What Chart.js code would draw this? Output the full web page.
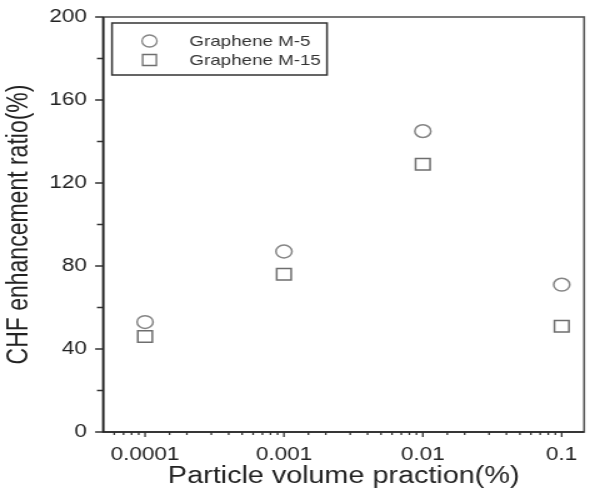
<!DOCTYPE html>
<html>
<head>
<meta charset="utf-8">
<script src="https://cdn.jsdelivr.net/npm/chart.js@4/dist/chart.umd.min.js"></script>
<style>
  html, body { margin: 0; padding: 0; background: #fff; overflow: hidden; }
  /* the source figure is stretched sideways, so the canvas is too */
  #chf { display: block; transform: scaleX(1.25); transform-origin: 0 0; }
</style>
</head>
<body>
<canvas id="chf" width="477" height="490"></canvas>
<script>
// particle volume fraction (%), log axis
const fractions = [0.0001, 0.001, 0.01, 0.1];
const m5Values = [53, 87, 145, 71];
const m15Values = [46, 76, 129, 51];
const seriesNames = ['Graphene M-5', 'Graphene M-15'];
const yTicks = [0, 40, 80, 120, 160, 200];

const FONT = "'Liberation Sans', Arial, sans-serif";
const isDecade = v => Math.abs(Math.log10(v) - Math.round(Math.log10(v))) < 1e-9;

const toPoints = vals => fractions.map((x, i) => ({ x: x, y: vals[i] }));

// keep the plot box where the layout padding puts it
const noEdgePad = s => {
  s.paddingLeft = 0;
  s.paddingRight = 0;
  s.paddingTop = 0;
  s.paddingBottom = 0;
};

// outward ticks (major / minor) + frame + boxed legend
const decor = {
  id: 'decor',
  afterDraw(chart) {
    const { ctx, chartArea: a, scales } = chart;
    const xs = scales.x, ys = scales.y;
    ctx.save();
    ctx.strokeStyle = '#333';
    ctx.lineWidth = 1.3;
    ctx.beginPath();
    xs.ticks.forEach(t => {
      if (t.value <= xs.min || t.value >= xs.max) return;
      const px = xs.getPixelForValue(t.value);
      const len = isDecade(t.value) ? 5 : 3;
      ctx.moveTo(px, a.bottom);
      ctx.lineTo(px, a.bottom + len);
    });
    ys.ticks.forEach(t => {
      const py = ys.getPixelForValue(t.value);
      const len = yTicks.includes(t.value) ? 6.5 : 5;
      ctx.moveTo(a.left, py);
      ctx.lineTo(a.left - len, py);
    });
    ctx.stroke();

    // frame
    ctx.strokeStyle = '#555';
    ctx.lineWidth = 1.6;
    ctx.strokeRect(a.left, a.top, a.right - a.left, a.bottom - a.top);
    ctx.strokeStyle = '#222';
    ctx.beginPath();
    ctx.moveTo(a.left, a.top);
    ctx.lineTo(a.left, a.bottom);
    ctx.lineTo(a.right, a.bottom);
    ctx.stroke();

    // legend box
    const lx = a.left + 7, ly = a.top + 6, lw = 172, lh = 52;
    ctx.strokeStyle = '#333';
    ctx.lineWidth = 1.5;
    ctx.strokeRect(lx, ly, lw, lh);
    ctx.font = '15px ' + FONT;
    ctx.fillStyle = '#333';
    ctx.textBaseline = 'middle';
    chart.data.datasets.forEach((ds, i) => {
      const cy = ly + 18 + i * 19;
      const cx = lx + 30;
      ctx.strokeStyle = ds.borderColor;
      ctx.lineWidth = 1.3;
      ctx.beginPath();
      if (ds.pointStyle === 'rect') {
        ctx.rect(cx - 5.5, cy - 5.5, 11, 11);
      } else {
        ctx.arc(cx, cy, 6, 0, Math.PI * 2);
      }
      ctx.stroke();
      ctx.fillText(ds.label, lx + 62, cy + 1);
    });
    ctx.restore();
  }
};

new Chart(document.getElementById('chf'), {
  type: 'scatter',
  data: {
    datasets: [
      {
        label: seriesNames[0],
        data: toPoints(m5Values),
        pointStyle: 'circle',
        pointRadius: 6.4,
        pointHoverRadius: 6.4,
        borderColor: '#858585',
        backgroundColor: 'rgba(0,0,0,0)',
        pointBorderWidth: 1.5
      },
      {
        label: seriesNames[1],
        data: toPoints(m15Values),
        pointStyle: 'rect',
        pointRadius: 8.2,
        pointHoverRadius: 8.2,
        borderColor: '#6e6e6e',
        backgroundColor: 'rgba(0,0,0,0)',
        pointBorderWidth: 1.5
      }
    ]
  },
  options: {
    responsive: false,
    animation: false,
    layout: { padding: { left: 0, top: 17, right: 0.5, bottom: 0 } },
    plugins: {
      legend: { display: false },
      tooltip: { enabled: false }
    },
    scales: {
      x: {
        type: 'logarithmic',
        min: 0.00005,
        max: 0.145,
        afterFit: s => { s.height = 58; noEdgePad(s); },
        grid: { display: false, drawTicks: false },
        border: { display: false },
        ticks: {
          autoSkip: false,
          maxRotation: 0,
          minRotation: 0,
          padding: 12,
          color: '#222',
          font: { family: FONT, size: 18 },
          callback: v => isDecade(v) ? String(v) : ''
        },
        title: {
          display: true,
          text: 'Particle volume praction(%)',
          color: '#222',
          padding: 0,
          font: { family: FONT, size: 23 }
        }
      },
      y: {
        min: 0,
        max: 200,
        afterFit: s => { s.width = 82.6; noEdgePad(s); },
        grid: { display: false, drawTicks: false },
        border: { display: false },
        ticks: {
          stepSize: 20,
          padding: 13,
          color: '#222',
          font: { family: FONT, size: 18 },
          callback: v => yTicks.includes(v) ? v : ''
        },
        title: {
          display: true,
          text: 'CHF enhancement ratio(%)',
          color: '#222',
          padding: 2,
          font: { family: FONT, size: 23 }
        }
      }
    }
  },
  plugins: [decor]
});
</script>
</body>
</html>
